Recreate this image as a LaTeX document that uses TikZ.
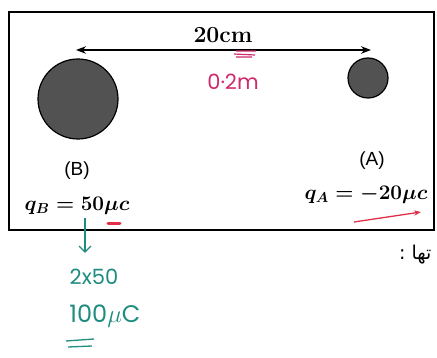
\documentclass[tikz,border=0pt]{standalone}
\usepackage{fontspec}
\usepackage{tikz}
\usetikzlibrary{arrows.meta}
\setsansfont{Liberation Sans}
\newfontfamily\handfont{Poppins}
\newfontfamily\arabicfont[Script=Arabic]{DejaVu Sans}
\TeXXeTstate=1
\definecolor{penpink}{HTML}{D02A6E}
\definecolor{penteal}{HTML}{1E8C7E}
\definecolor{penred}{HTML}{E03048}
\tikzset{
    charges/.style={
        x=1pt, y=-1pt,
        ball/.style={circle, draw=black, line width=1.2pt, fill=black!68, inner sep=0pt},
        tag/.style={font=\sffamily\fontsize{19}{19}\selectfont, inner sep=0pt},
        value/.style={font=\fontsize{20}{20}\selectfont\bfseries\boldmath, inner sep=0pt},
        pen/.style={font=\handfont\fontsize{21}{21}\selectfont, inner sep=0pt},
    },
}

\begin{document}
\begin{tikzpicture}[charges]
            \useasboundingbox (0,0) rectangle (437,358);
            \draw[line width=1.8pt] (9,12) rectangle (434,230);
            \node[ball, minimum size=80pt] (B) at (78,99)  {};
            \node[ball, minimum size=40pt] (A) at (368,78) {};
            \coordinate (left)  at (76,50);
            \coordinate (right) at (371,50);
            \draw[{Stealth[length=10pt]}-{Stealth[length=10pt]}, line width=1.5pt] (left) -- (right);
            \node[value, font=\fontsize{23}{23}\selectfont\bfseries] (dist) at (223,35) {20cm};
            \draw[penpink, line width=1.2pt] (236,51) -- (256,51) (234,54) -- (255,55) (236,57) -- (252,57);
            \node[pen, text=penpink] (meters) at (233,82) {0·2m};
            \node[tag]   (nameB) at (77,171)  {(B)};
            \node[value] (qB)    at (77,206)  {$q_B = 50\mu c$};
            \node[tag]   (nameA) at (372,161) {(A)};
            \node[value] (qA)    at (366,195) {$q_A = -20\mu c$};
            \draw[penred, line width=3pt, line cap=round] (108,224) -- (120,224);
            \coordinate (from) at (354,222);
            \coordinate (to)   at (421,212);
            \draw[penred, line width=1.3pt, -{Stealth[length=7pt]}] (from) -- (to);
            \coordinate (down) at (85,218);
            \coordinate (tip)  at (85,253);
            \draw[penteal, line width=1.4pt, -{Straight Barb[length=6pt]}] (down) -- (tip);
            \node[pen, text=penteal] (twice) at (94,277) {2x50};
            \node[pen, text=penteal, font=\handfont\fontsize{24}{24}\selectfont] (total) at (105,316) {100$\mu$C};
            \draw[penteal, line width=1.3pt] (66,341) -- (94,339) (68,347) -- (92,346);
            \node[font=\arabicfont\fontsize{19}{19}\selectfont, anchor=west, inner sep=0pt] (cut) at (399,255) {\beginR تها :\endR};
        \end{tikzpicture}
\end{document}
